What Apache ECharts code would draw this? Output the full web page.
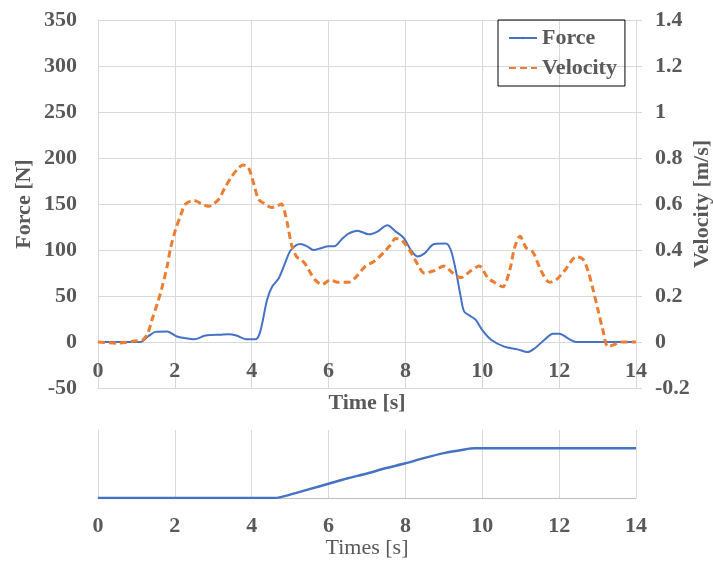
<!DOCTYPE html>
<html>
<head>
<meta charset="utf-8">
<script src="https://cdn.jsdelivr.net/npm/echarts@6/dist/echarts.min.js"></script>
<style>
  html, body { margin: 0; padding: 0; background: #fff; }
  #main { width: 713px; height: 563px; }
</style>
</head>
<body>
<div id="main"></div>
<script>
// force curve [s, N]
const forceTime = [0, 1.1, 1.3, 1.5, 1.8, 2.05, 2.3, 2.5, 2.8, 3.2, 3.4, 3.6, 3.85, 4.1, 4.22, 4.4, 4.53, 4.7, 4.87, 5.0, 5.15, 5.27, 5.44, 5.61, 5.8, 6.0, 6.15, 6.35, 6.53, 6.75, 7.05, 7.27, 7.53, 7.75, 7.96, 8.14, 8.31, 8.49, 8.75, 9.05, 9.18, 9.31, 9.44, 9.53, 9.7, 9.83, 10.0, 10.23, 10.57, 10.92, 11.18, 11.36, 11.62, 11.84, 12.01, 12.23, 12.45, 14]
const forceValue = [0, 0, 6, 11, 11.5, 6, 4, 3, 7, 8, 8.5, 7, 3, 3, 11, 46, 60, 69, 86, 99, 105, 106.5, 104, 100, 102, 104, 104, 112, 118, 121, 117, 120, 127, 120, 113, 100, 93, 96, 106.5, 107, 100, 78, 49, 33, 28, 24, 13, 2.5, -5, -8, -11, -7, 2.5, 9, 9, 4, 0, 0]

// velocity curve [s, m/s]
const velTime = [0, 0.5, 1.0, 1.17, 1.3, 1.41, 1.55, 1.67, 1.8, 1.89, 2.02, 2.15, 2.28, 2.5, 2.7, 2.88, 3.0, 3.14, 3.3, 3.48, 3.65, 3.77, 3.9, 3.96, 4.05, 4.18, 4.35, 4.52, 4.65, 4.77, 4.92, 5.04, 5.17, 5.27, 5.39, 5.53, 5.65, 5.83, 6.05, 6.24, 6.53, 6.7, 6.96, 7.18, 7.44, 7.6, 7.75, 7.92, 8.14, 8.31, 8.49, 8.75, 9.0, 9.23, 9.44, 9.7, 9.92, 10.14, 10.31, 10.53, 10.71, 10.84, 10.98, 11.14, 11.32, 11.53, 11.75, 11.92, 12.14, 12.45, 12.62, 12.75, 12.88, 13.01, 13.14, 13.27, 13.45, 13.6, 14]
const velValue = [0, -0.005, 0.005, 0.01, 0.04, 0.1, 0.17, 0.24, 0.33, 0.41, 0.49, 0.55, 0.6, 0.615, 0.6, 0.59, 0.6, 0.62, 0.67, 0.72, 0.755, 0.77, 0.76, 0.74, 0.69, 0.62, 0.6, 0.585, 0.59, 0.6, 0.52, 0.42, 0.37, 0.36, 0.34, 0.3, 0.27, 0.25, 0.27, 0.26, 0.26, 0.28, 0.33, 0.35, 0.39, 0.42, 0.45, 0.44, 0.39, 0.34, 0.3, 0.31, 0.33, 0.3, 0.28, 0.31, 0.33, 0.28, 0.26, 0.24, 0.31, 0.41, 0.46, 0.41, 0.39, 0.31, 0.26, 0.27, 0.31, 0.37, 0.36, 0.31, 0.23, 0.14, 0.05, -0.02, -0.01, 0, 0]

// lower panel (no scale shown, relative)
const posTime = [0, 4.6, 5.0, 5.5, 6.0, 6.5, 7.0, 7.5, 8.0, 8.5, 9.0, 9.5, 9.8, 14]
const posValue = [0, 0, 0.05, 0.13, 0.21, 0.29, 0.36, 0.44, 0.51, 0.59, 0.66, 0.71, 0.73, 0.73]

const zip = (a, b) => a.map((x, i) => [x, b[i]])

const FONT = 'Liberation Serif'
const GREY = '#595959'
const GRIDC = '#d9d9d9'
const txt = (size, weight) => ({ fontFamily: FONT, fontSize: size, fontWeight: weight || 'bold', color: GREY })

const chart = echarts.init(document.getElementById('main'))

chart.setOption({
  animation: false,
  backgroundColor: '#fff',
  grid: [
    { left: 98, right: 77, top: 20, bottom: 175, outerBoundsMode: 'none' },
    { left: 98, right: 77, top: 430, bottom: 65, outerBoundsMode: 'none' },
    // upper part of top panel (0..350 N), only used to put the time labels on the zero line
    { left: 98, right: 77, top: 20, bottom: 221, outerBoundsMode: 'none' }
  ],
  legend: {
    orient: 'vertical',
    left: 498,
    top: 20,
    width: 128,
    padding: [7, 8, 7, 10],
    itemGap: 8,
    itemWidth: 28,
    itemHeight: 3,
    borderColor: '#000',
    borderWidth: 1,
    textStyle: txt(22),
    data: ['Force', 'Velocity']
  },
  xAxis: [
    {
      gridIndex: 0, type: 'value', min: 0, max: 14, interval: 2,
      axisLine: { onZero: false, lineStyle: { color: GRIDC } },
      axisTick: { show: false },
      axisLabel: { show: false },
      splitLine: { lineStyle: { color: GRIDC } }
    },
    {
      gridIndex: 1, type: 'value', min: 0, max: 14, interval: 2,
      name: 'Times [s]', nameLocation: 'middle', nameGap: 39, nameMoveOverlap: false,
      nameTextStyle: txt(22, 'normal'),
      axisLine: { onZero: false, lineStyle: { color: '#bfbfbf' } },
      axisTick: { show: false },
      axisLabel: { margin: 17, ...txt(22) },
      splitLine: { lineStyle: { color: GRIDC } }
    },
    {
      gridIndex: 2, type: 'value', min: 0, max: 14, interval: 2,
      name: 'Time [s]', nameLocation: 'middle', nameGap: 50, nameMoveOverlap: false,
      nameTextStyle: txt(22),
      axisLine: { onZero: false, lineStyle: { color: GRIDC } },
      axisTick: { show: false },
      axisLabel: { margin: 18, ...txt(22) },
      splitLine: { show: false }
    }
  ],
  yAxis: [
    {
      gridIndex: 0, type: 'value', min: -50, max: 350, interval: 50,
      name: 'Force [N]', nameLocation: 'middle', nameGap: 63, nameMoveOverlap: false,
      nameTextStyle: txt(22),
      axisLine: { show: true, onZero: false, lineStyle: { color: GRIDC } },
      axisTick: { show: false },
      axisLabel: { margin: 21, ...txt(22) },
      splitLine: { lineStyle: { color: GRIDC } }
    },
    {
      gridIndex: 0, type: 'value', min: -0.2, max: 1.4, interval: 0.2,
      position: 'right',
      name: 'Velocity [m/s]', nameLocation: 'middle', nameGap: 55, nameMoveOverlap: false,
      nameTextStyle: txt(22),
      axisLine: { show: true, onZero: false, lineStyle: { color: GRIDC } },
      axisTick: { show: true, length: 6, lineStyle: { color: GRIDC } },
      axisLabel: { margin: 19, formatter: v => String(+v.toFixed(1)), ...txt(22) },
      splitLine: { show: false }
    },
    {
      gridIndex: 1, type: 'value', min: 0, max: 1,
      axisLine: { show: false, onZero: false },
      axisTick: { show: false },
      axisLabel: { show: false },
      splitLine: { show: false }
    },
    {
      gridIndex: 2, type: 'value', min: 0, max: 350, show: false
    }
  ],
  series: [
    {
      name: 'Force', type: 'line', xAxisIndex: 0, yAxisIndex: 0,
      data: zip(forceTime, forceValue),
      smooth: 0.3, symbol: 'none',
      itemStyle: { color: '#4472c4' },
      lineStyle: { color: '#4472c4', width: 2 }
    },
    {
      name: 'Velocity', type: 'line', xAxisIndex: 0, yAxisIndex: 1,
      data: zip(velTime, velValue),
      smooth: 0.3, symbol: 'none',
      itemStyle: { color: '#ed7d31' },
      lineStyle: { color: '#ed7d31', width: 3, type: [7, 4] }
    },
    {
      name: 'Position', type: 'line', xAxisIndex: 1, yAxisIndex: 2,
      data: zip(posTime, posValue),
      smooth: 0.3, symbol: 'none',
      lineStyle: { color: '#4472c4', width: 2.5 }
    }
  ]
})
</script>
</body>
</html>
